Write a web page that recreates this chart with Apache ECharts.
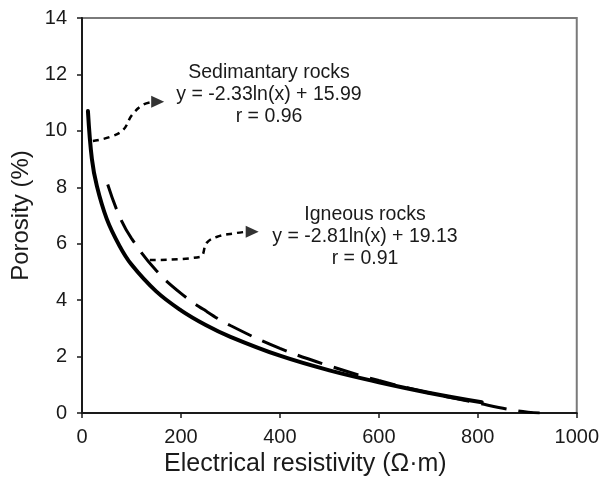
<!DOCTYPE html>
<html>
<head>
<meta charset="utf-8">
<script src="https://cdn.jsdelivr.net/npm/echarts@6/dist/echarts.min.js"></script>
<style>html,body{margin:0;padding:0;background:#fff}#c{width:602px;height:493px}</style>
</head>
<body>
<div id="c"></div>
<script>
// Sedimentary rocks (solid curve)
var sedX = [12, 20, 30, 50, 75, 100, 150, 200, 250, 300, 400, 500, 600, 700, 808];
var sedY = [10.7, 9.0, 8.05, 6.88, 5.95, 5.26, 4.31, 3.64, 3.12, 2.70, 2.03, 1.51, 1.09, 0.72, 0.38];
// Igneous rocks (dashed curve)
var ignX = [52, 75, 100, 150, 200, 250, 300, 400, 500, 600, 700, 800, 880, 925];
var ignY = [8.1, 7.0, 6.19, 5.05, 4.24, 3.62, 3.10, 2.29, 1.67, 1.15, 0.72, 0.35, 0.08, 0.0];
// annotation arrows (data coords)
var arrow1X = [22, 56, 83, 101, 123, 141];
var arrow1Y = [9.64, 9.78, 10.03, 10.56, 10.92, 11.02];
var arrow1Head = [153, 11.03];
var arrow2X = [137, 238, 252, 272, 312, 331];
var arrow2Y = [5.42, 5.53, 6.03, 6.24, 6.38, 6.42];
var arrow2Head = [344, 6.42];
var xTicks = [0, 200, 400, 600, 800, 1000];
var yTicks = [0, 2, 4, 6, 8, 10, 12, 14];
var sedText = ['Sedimantary rocks', 'y = -2.33ln(x) + 15.99', 'r = 0.96'];
var ignText = ['Igneous rocks', 'y = -2.81ln(x) + 19.13', 'r = 0.91'];

function zip(a, b) { return a.map(function (v, i) { return [v, b[i]]; }); }

var chart = echarts.init(document.getElementById('c'));
var font = 'Liberation Sans, Arial, sans-serif';
var option = {
  animation: false,
  grid: { left: 82, right: 24, top: 18, bottom: 80, show: true, borderColor: '#7a7a7a', borderWidth: 2 },
  xAxis: {
    type: 'value', min: xTicks[0], max: xTicks[xTicks.length - 1], interval: 200,
    name: 'Electrical resistivity (Ω·m)', nameLocation: 'middle', nameGap: 35,
    nameTextStyle: { fontSize: 25, color: '#1a1a1a', fontFamily: font, padding: [0, 48, 0, 0] },
    axisLine: { onZero: false, lineStyle: { color: '#1a1a1a', width: 2 } },
    axisTick: { show: true, inside: false, length: 5, lineStyle: { color: '#1a1a1a', width: 1.5 } },
    axisLabel: { fontSize: 20, color: '#1a1a1a', margin: 14, fontFamily: font,
      formatter: function (v) { return String(v); } },
    splitLine: { show: false }
  },
  yAxis: {
    type: 'value', min: yTicks[0], max: yTicks[yTicks.length - 1], interval: 2,
    name: 'Porosity (%)', nameLocation: 'middle', nameGap: 46, nameRotate: 90,
    nameTextStyle: { fontSize: 24, color: '#1a1a1a', fontFamily: font },
    axisLine: { show: true, onZero: false, lineStyle: { color: '#1a1a1a', width: 2 } },
    axisTick: { show: true, inside: false, length: 5, lineStyle: { color: '#1a1a1a', width: 1.5 } },
    axisLabel: { fontSize: 20, color: '#1a1a1a', margin: 15, fontFamily: font },
    splitLine: { show: false }
  },
  series: [
    { type: 'line', data: zip(sedX, sedY), smooth: 0.4, symbol: 'none',
      lineStyle: { color: '#000', width: 4, cap: 'round' } },
    { type: 'line', data: zip(ignX, ignY), smooth: 0.4, symbol: 'none',
      lineStyle: { color: '#000', width: 3, type: [26, 12] } },
    { type: 'line', data: zip(arrow1X, arrow1Y), smooth: 0.4, symbol: 'none',
      lineStyle: { color: '#000', width: 2.5, type: [6, 5] } },
    { type: 'line', data: zip(arrow2X, arrow2Y), smooth: 0.4, symbol: 'none',
      lineStyle: { color: '#000', width: 2.5, type: [6, 5] } },
    { type: 'scatter', data: [arrow1Head, arrow2Head], symbol: 'triangle', symbolSize: [12, 13],
      symbolRotate: -90, itemStyle: { color: '#000' } }
  ],
  graphic: [
    { type: 'text', x: 269, y: 62, style: { text: sedText.join('\n'), fontSize: 19.5, lineHeight: 22, fontFamily: font, fill: '#1a1a1a', align: 'center', verticalAlign: 'top' } },
    { type: 'text', x: 365, y: 204, style: { text: ignText.join('\n'), fontSize: 19.5, lineHeight: 22, fontFamily: font, fill: '#1a1a1a', align: 'center', verticalAlign: 'top' } }
  ]
};
chart.setOption(option);
</script>
</body>
</html>
